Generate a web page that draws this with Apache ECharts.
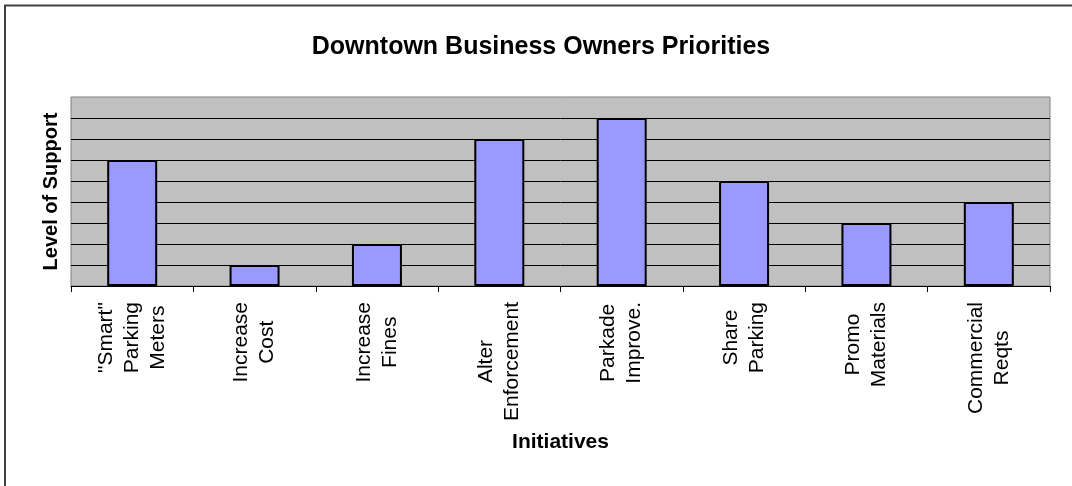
<!DOCTYPE html>
<html>
<head>
<meta charset="utf-8">
<title>Downtown Business Owners Priorities</title>
<script src="https://cdn.jsdelivr.net/npm/echarts@6/dist/echarts.min.js"></script>
<style>
  html, body { margin: 0; padding: 0; background: #ffffff; }
  #chart { width: 1072px; height: 486px; }
</style>
</head>
<body>
<div id="chart"></div>
<script>
// Initiatives and their level of support among downtown business owners
const initiatives = [
  '"Smart"\nParking\nMeters',
  'Increase\nCost',
  'Increase\nFines',
  'Alter\nEnforcement',
  'Parkade\nImprove.',
  'Share\nParking',
  'Promo\nMaterials',
  'Commercial\nReqts'
];
const support = [6, 1, 2, 7, 8, 5, 3, 4];

const chartTitle = 'Downtown Business Owners Priorities';
const xTitle = 'Initiatives';
const yTitle = 'Level of Support';

const FONT = '"Liberation Sans", Arial, sans-serif';

const chart = echarts.init(document.getElementById('chart'), null, { renderer: 'canvas' });

chart.setOption({
  animation: false,
  backgroundColor: '#ffffff',
  title: {
    text: chartTitle,
    left: 536,
    top: 30,
    textAlign: 'center',
    textStyle: { fontFamily: FONT, fontSize: 25, fontWeight: 'bold', color: '#000000' }
  },
  graphic: [
    // frame around the chart area
    { type: 'line', shape: { x1: 4, y1: 5.5, x2: 1072, y2: 5.5 }, style: { stroke: '#404040', lineWidth: 2 } },
    { type: 'line', shape: { x1: 5, y1: 5, x2: 5, y2: 486 }, style: { stroke: '#404040', lineWidth: 2 } }
  ],
  grid: {
    left: 71,
    right: 22,
    top: 97,
    bottom: 200,
    show: true,
    backgroundColor: '#c0c0c0',
    borderColor: '#808080',
    borderWidth: 1
  },
  xAxis: {
    type: 'category',
    data: initiatives,
    name: xTitle,
    nameLocation: 'middle',
    nameGap: 146,
    nameTextStyle: { fontFamily: FONT, fontSize: 21, fontWeight: 'bold', color: '#000000' },
    axisLine: { lineStyle: { color: '#000000', width: 1 } },
    axisTick: { show: true, length: 6, lineStyle: { color: '#000000' } },
    axisLabel: {
      rotate: 90,
      margin: 16,
      interval: 0,
      formatter: function (v) {
        return v.split('\n').map(function (s) { return '{c|' + s + '}'; }).join('\n');
      },
      rich: {
        c: { align: 'center', fontFamily: FONT, fontSize: 21, lineHeight: 26, color: '#000000' }
      }
    },
    splitLine: { show: false }
  },
  yAxis: {
    type: 'value',
    min: 0,
    max: 9,
    interval: 1,
    name: yTitle,
    nameLocation: 'middle',
    nameGap: 10,
    nameTextStyle: { fontFamily: FONT, fontSize: 20, fontWeight: 'bold', color: '#000000' },
    axisLine: { show: false },
    axisTick: { show: false },
    axisLabel: { show: false },
    splitLine: {
      show: true,
      showMinLine: false,
      showMaxLine: false,
      lineStyle: { color: '#000000', width: 1 }
    }
  },
  series: [{
    type: 'bar',
    data: support,
    barWidth: 50,
    itemStyle: { color: '#9999ff', borderColor: '#000000', borderWidth: 2 }
  }]
});
</script>
</body>
</html>
